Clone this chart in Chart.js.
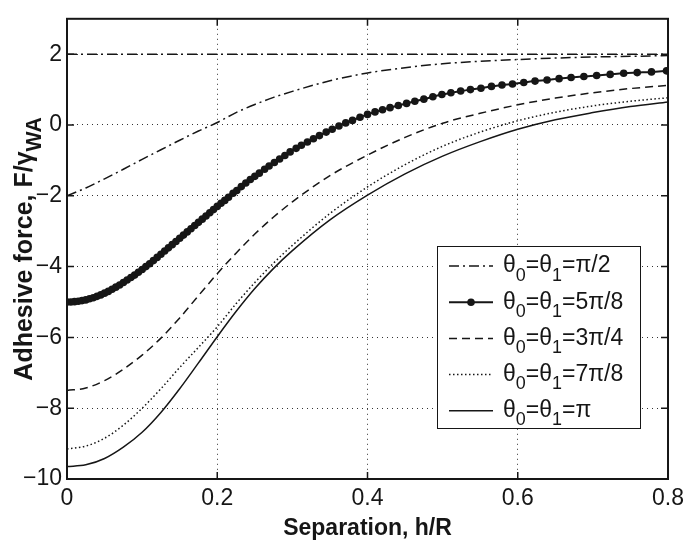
<!DOCTYPE html>
<html>
<head>
<meta charset="utf-8">
<script src="https://cdn.jsdelivr.net/npm/chart.js@4.4.1/dist/chart.umd.min.js"></script>
<style>
  html, body { margin: 0; padding: 0; background: #fff; }
  #wrap { width: 690px; height: 547px; }
</style>
</head>
<body>
<div id="wrap"><canvas id="chart"></canvas></div>
<script>
// separation h/R used by the thin curves
const hSep = [0, 0.025, 0.05, 0.075, 0.1, 0.125, 0.15, 0.175, 0.2, 0.225, 0.25, 0.275, 0.3,
  0.35, 0.4, 0.45, 0.5, 0.55, 0.6, 0.65, 0.7, 0.75, 0.8];
const fHalfPi = [-2.0, -1.78, -1.52, -1.25, -0.97, -0.7, -0.43, -0.17, 0.07, 0.35, 0.58, 0.78, 0.95,
  1.25, 1.47, 1.62, 1.73, 1.8, 1.85, 1.89, 1.92, 1.94, 1.96];
const fThreeQ = [-7.5, -7.43, -7.22, -6.9, -6.5, -6.02, -5.45, -4.82, -4.2, -3.62, -3.08, -2.6, -2.17,
  -1.43, -0.85, -0.35, 0.05, 0.33, 0.57, 0.76, 0.91, 1.03, 1.12];
const fSevenE = [-9.15, -9.07, -8.85, -8.48, -8.0, -7.45, -6.85, -6.28, -5.7, -5.05, -4.45, -3.9, -3.4,
  -2.5, -1.75, -1.12, -0.6, -0.2, 0.12, 0.36, 0.54, 0.67, 0.77];
const fPi = [-9.65, -9.6, -9.42, -9.1, -8.68, -8.12, -7.45, -6.72, -5.98, -5.27, -4.62, -4.05, -3.55,
  -2.68, -1.98, -1.38, -0.88, -0.47, -0.12, 0.15, 0.35, 0.52, 0.65];

// 5pi/8 curve with its markers
const hMark = [0, 0.005, 0.01, 0.015, 0.02, 0.025, 0.03, 0.035, 0.04, 0.045, 0.05, 0.055, 0.06, 0.065, 0.07,
  0.075, 0.08, 0.085, 0.09, 0.095, 0.1, 0.105, 0.11, 0.115, 0.12, 0.125, 0.13, 0.135, 0.14, 0.145, 0.15,
  0.155, 0.16, 0.165, 0.17, 0.175, 0.18, 0.185, 0.19, 0.195, 0.2, 0.205, 0.21, 0.215, 0.221, 0.226, 0.232,
  0.238, 0.244, 0.25, 0.256, 0.263, 0.269, 0.276, 0.283, 0.29, 0.297, 0.305, 0.312, 0.32, 0.328, 0.336,
  0.345, 0.353, 0.362, 0.371, 0.38, 0.39, 0.4, 0.41, 0.42, 0.43, 0.441, 0.452, 0.463, 0.475, 0.487, 0.499,
  0.511, 0.524, 0.537, 0.551, 0.565, 0.579, 0.593, 0.608, 0.623, 0.639, 0.655, 0.671, 0.688, 0.705, 0.723,
  0.741, 0.759, 0.778, 0.798];
const fFiveE = [-5.0, -5.0, -4.99, -4.98, -4.96, -4.94, -4.91, -4.88, -4.84, -4.8, -4.75, -4.7, -4.64, -4.58, -4.52,
  -4.45, -4.38, -4.31, -4.24, -4.16, -4.08, -4.0, -3.92, -3.83, -3.74, -3.65, -3.56, -3.47, -3.38, -3.29, -3.2,
  -3.11, -3.02, -2.93, -2.84, -2.75, -2.66, -2.57, -2.48, -2.39, -2.3, -2.21, -2.13, -2.04, -1.93, -1.85, -1.74,
  -1.64, -1.54, -1.45, -1.36, -1.25, -1.16, -1.06, -0.96, -0.86, -0.76, -0.66, -0.57, -0.48, -0.39, -0.3,
  -0.2, -0.12, -0.03, 0.06, 0.13, 0.22, 0.3, 0.37, 0.43, 0.49, 0.55, 0.61, 0.67, 0.73, 0.8, 0.86,
  0.91, 0.96, 1.0, 1.04, 1.09, 1.13, 1.16, 1.2, 1.24, 1.27, 1.31, 1.34, 1.37, 1.4, 1.43,
  1.46, 1.48, 1.5, 1.53];

// horizontal limit line
const limitH = [0, 0.8];
const limitF = [2, 2];

const xTicks = [0, 0.2, 0.4, 0.6, 0.8];
const yTicks = [-10, -8, -6, -4, -2, 0, 2];
const legendNames = ['\u03c0/2', '5\u03c0/8', '3\u03c0/4', '7\u03c0/8', '\u03c0'];

const ink = '#161616';
const fontFam = '"Liberation Sans", Arial, Helvetica, sans-serif';

function pts(xs, ys) {
  return xs.map((x, i) => ({ x: x, y: ys[i] }));
}

const datasets = [
  { label: 'limit', data: pts(limitH, limitF), borderDash: [10, 4, 2, 4], borderWidth: 1.5 },
  { label: legendNames[0], data: pts(hSep, fHalfPi), borderDash: [10, 4, 2, 4], borderWidth: 1.5 },
  { label: legendNames[1], data: pts(hMark, fFiveE), borderDash: [], borderWidth: 2, pointRadius: 3.8 },
  { label: legendNames[2], data: pts(hSep, fThreeQ), borderDash: [8, 5], borderWidth: 1.5 },
  { label: legendNames[3], data: pts(hSep, fSevenE), borderDash: [1.5, 2.5], borderWidth: 1.5 },
  { label: legendNames[4], data: pts(hSep, fPi), borderDash: [], borderWidth: 1.5 }
];
datasets.forEach(d => {
  d.borderColor = ink;
  d.backgroundColor = ink;
  d.pointRadius = d.pointRadius || 0;
  d.pointBorderWidth = 0;
  d.cubicInterpolationMode = 'monotone';
  d.fill = false;
});

// parts: [text, isSub]; subscripts are smaller and dropped below the baseline
function drawSubText(ctx, parts, x, y, size, bold, subScale) {
  let cx = x;
  parts.forEach(p => {
    const s = p[1] ? size * subScale : size;
    ctx.font = (bold ? 'bold ' : '') + s + 'px ' + fontFam;
    ctx.fillText(p[0], cx, y + (p[1] ? size * 0.42 : 0));
    cx += ctx.measureText(p[0]).width;
  });
  return cx - x;
}

function measureSubText(ctx, parts, size, bold, subScale) {
  let w = 0;
  parts.forEach(p => {
    const s = p[1] ? size * subScale : size;
    ctx.font = (bold ? 'bold ' : '') + s + 'px ' + fontFam;
    w += ctx.measureText(p[0]).width;
  });
  return w;
}

const framePlugin = {
  id: 'frame',
  afterDatasetsDraw(chart) {
    const { ctx, chartArea: a, scales: { x, y } } = chart;
    ctx.save();
    ctx.strokeStyle = ink;
    ctx.setLineDash([]);

    // inward ticks on all four sides
    ctx.lineWidth = 1.5;
    ctx.beginPath();
    yTicks.forEach(v => {
      const py = y.getPixelForValue(v);
      ctx.moveTo(a.left, py); ctx.lineTo(a.left + 7, py);
      ctx.moveTo(a.right, py); ctx.lineTo(a.right - 7, py);
    });
    xTicks.forEach(v => {
      const px = x.getPixelForValue(v);
      ctx.moveTo(px, a.bottom); ctx.lineTo(px, a.bottom - 7);
      ctx.moveTo(px, a.top); ctx.lineTo(px, a.top + 7);
    });
    ctx.stroke();

    // axes box
    ctx.lineWidth = 2;
    ctx.strokeRect(a.left, a.top, a.right - a.left, a.bottom - a.top);

    // legend box
    const bx = a.left + 370, by = 246, bw = 203, bh = 182;
    ctx.fillStyle = '#fff';
    ctx.fillRect(bx, by, bw, bh);
    ctx.lineWidth = 1;
    ctx.strokeRect(bx + 0.5, by + 0.5, bw, bh);

    const rowH = 36.2;
    for (let i = 0; i < 5; i++) {
      const ds = chart.data.datasets[i + 1];
      const ly = by + 20 + i * rowH;
      ctx.strokeStyle = ink;
      ctx.lineWidth = ds.borderWidth;
      ctx.setLineDash(ds.borderDash);
      ctx.beginPath();
      ctx.moveTo(bx + 12, ly);
      ctx.lineTo(bx + 56, ly);
      ctx.stroke();
      ctx.setLineDash([]);
      if (ds.pointRadius) {
        ctx.fillStyle = ink;
        ctx.beginPath();
        ctx.arc(bx + 34, ly, ds.pointRadius, 0, Math.PI * 2);
        ctx.fill();
      }
      ctx.fillStyle = ink;
      ctx.textBaseline = 'middle';
      ctx.textAlign = 'left';
      drawSubText(ctx, [['\u03b8', false], ['0', true], ['=\u03b8', false], ['1', true], ['=' + ds.label, false]],
        bx + 66, ly, 23, false, 0.78);
    }

    // y axis title with subscript
    const parts = [['Adhesive force, F/', false], ['\u03b3', false], ['WA', true]];
    const tw = measureSubText(ctx, parts, 25, true, 0.85);
    ctx.translate(25, (a.top + a.bottom) / 2);
    ctx.rotate(-Math.PI / 2);
    ctx.fillStyle = ink;
    ctx.textBaseline = 'middle';
    ctx.textAlign = 'left';
    drawSubText(ctx, parts, -tw / 2, 0, 25, true, 0.85);
    ctx.restore();
  }
};

new Chart(document.getElementById('chart'), {
  type: 'line',
  data: { datasets: datasets },
  options: {
    responsive: true,
    maintainAspectRatio: false,
    animation: false,
    events: [],
    layout: { padding: { top: 4, right: 20, left: 0, bottom: 0 } },
    plugins: { legend: { display: false }, tooltip: { enabled: false } },
    scales: {
      x: {
        type: 'linear', min: 0, max: 0.8,
        afterBuildTicks: s => { s.ticks = xTicks.map(v => ({ value: v })); },
        afterFit: s => { s.height = 68; },
        grid: { color: '#333', lineWidth: 1, drawTicks: false },
        border: { display: false, dash: [1, 4] },
        ticks: { color: ink, padding: 6, font: { size: 23, family: fontFam }, maxRotation: 0,
          callback: v => v === 0 ? '0' : v.toFixed(1) },
        title: { display: true, text: 'Separation, h/R', color: ink, padding: { top: 0, bottom: 5 },
          font: { size: 23, weight: 'bold', family: fontFam } }
      },
      y: {
        type: 'linear', min: -10, max: 3,
        afterBuildTicks: s => { s.ticks = yTicks.map(v => ({ value: v })); },
        afterFit: s => { s.width = 67; },
        grid: { color: '#333', lineWidth: 1, drawTicks: false },
        border: { display: false, dash: [1, 4] },
        ticks: { color: ink, padding: 5, font: { size: 23, family: fontFam },
          callback: v => String(v).replace('-', '\u2212') }
      }
    }
  },
  plugins: [framePlugin]
});
</script>
</body>
</html>
